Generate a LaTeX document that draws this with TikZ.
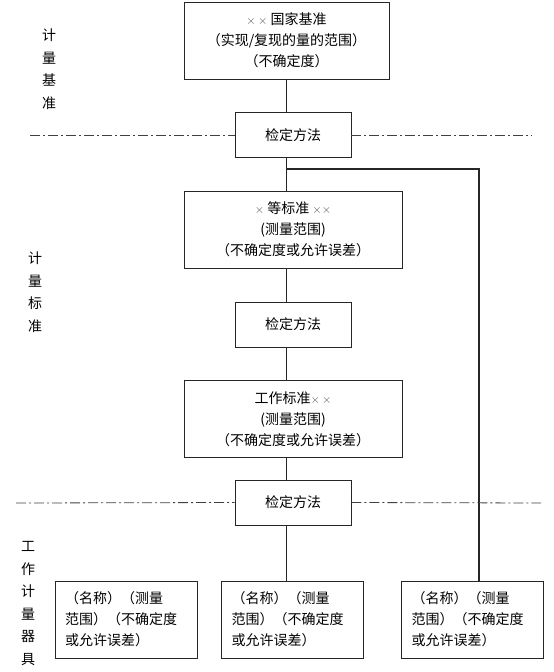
\documentclass[tikz,border=0pt]{standalone}
\usepackage{fontspec}
\setmainfont{Noto Sans CJK SC}

\definecolor{xmark}{RGB}{85,75,105}
\newcommand{\xm}{{\color{xmark}\fontsize{12}{12}\selectfont$\times$}}

\tikzset{
    box/.style={draw=black!85, line width=0.8pt, align=center, inner sep=0pt,
        font=\fontsize{14}{21}\selectfont},
    method/.style={box, minimum width=116pt, minimum height=45pt},
    stdbox/.style={box, minimum width=218pt, minimum height=77pt},
    devbox/.style={box, align=left, text width=122pt, inner xsep=10pt,
        minimum height=77pt},
    side/.style={align=center, inner sep=0pt, font=\fontsize{14}{22.5}\selectfont},
    wire/.style={draw=black!85, line width=0.8pt},
    sep/.style={draw=black!75, line width=0.8pt, dash pattern=on 10pt off 3pt on 2pt off 3pt}
}

\begin{document}
\begin{tikzpicture}[x=1pt, y=-1pt]
    \useasboundingbox (0,0) rectangle (554,672);

    % 计量基准
    \node[box, minimum width=205pt, minimum height=77pt] (nat) at (286.5,40.5)
        {\xm\,\xm\ 国家基准\\（实现/复现的量的范围）\\（不确定度）};
    \node[method] (m1) at (293,135) {检定方法};

    % 计量标准
    \node[stdbox] (grade) at (293,229.5) {\xm\ 等标准 \xm\xm\\(测量范围)\\（不确定度或允许误差）};
    \node[method] (m2) at (293,324.5) {检定方法};
    \node[stdbox] (work) at (293,419) {工作标准\xm\,\xm\\(测量范围)\\（不确定度或允许误差）};
    \node[method] (m3) at (293,502.5) {检定方法};

    % 工作计量器具
    \node[devbox] (d1) at (126,619.5) {（名称）（测量\\范围）（不确定度\\或允许误差）};
    \node[devbox] (d2) at (292.5,619.5) {（名称）（测量\\范围）（不确定度\\或允许误差）};
    \node[devbox] (d3) at (472.5,619.5) {（名称）（测量\\范围）（不确定度\\或允许误差）};

    % 连线
    \draw[wire] (nat.south) -- (nat.south |- m1.north);
    \draw[wire] (nat.south |- m1.south) -- (nat.south |- grade.north);
    \draw[wire] (nat.south |- grade.south) -- (nat.south |- m2.north);
    \draw[wire] (nat.south |- m2.south) -- (nat.south |- work.north);
    \draw[wire] (nat.south |- work.south) -- (nat.south |- m3.north);
    \draw[wire] (nat.south |- m3.south) -- (nat.south |- d2.north);

    \coordinate (fork) at (287,169);
    \coordinate (drop) at (479,169);
    \draw[wire, line width=1.3pt] (fork) -- (drop) -- (drop |- d3.north);

    % 分界线
    \coordinate (s1l) at (30,135);
    \coordinate (s1r) at (532,135);
    \coordinate (s2l) at (16,503);
    \coordinate (s2r) at (541,503);
    \draw[sep] (s1l) -- (m1.west);
    \draw[sep] (m1.east) -- (s1r);
    \draw[sep] (s2l) -- (m3.west);
    \draw[sep] (m3.east) -- (s2r);

    % 左侧标注
    \node[side] (lab1) at (49,69) {计\\量\\基\\准};
    \node[side] (lab2) at (35,292) {计\\量\\标\\准};
    \node[side] (lab3) at (28,603.5) {工\\作\\计\\量\\器\\具};

\end{tikzpicture}
\end{document}
